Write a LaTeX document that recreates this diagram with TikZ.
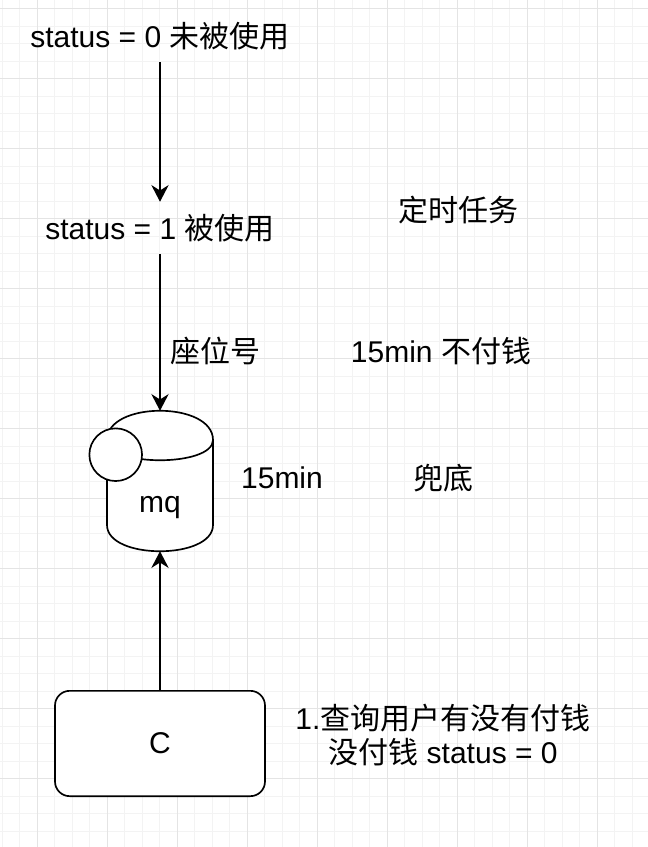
\documentclass[tikz,border=0pt]{standalone}
\usepackage{fontspec}
\setmainfont{Liberation Sans}
\newfontfamily\cjk{Noto Sans CJK SC}
\usepackage{xcolor}
\usetikzlibrary{arrows.meta}

\definecolor{gridminor}{HTML}{F3F3F3}
\definecolor{gridmajor}{HTML}{E4E4E4}

\tikzset{
	txt/.style={font=\fontsize{22.5}{25.5}\selectfont, align=center, inner sep=0pt},
	statetxt/.style={txt, minimum height=39pt, minimum width=120pt},
	flow/.style={draw, -{Stealth[length=12.5pt,width=13pt]}, line width=1.25pt},
	shapeline/.style={draw, fill=white, line width=1.25pt}
}

\begin{document}
\begin{tikzpicture}[x=0.75pt, y=-0.75pt]
	\useasboundingbox (0,0) rectangle (648,847);
	% grid
	\foreach \gx in {2,19.5,...,648} {
		\draw[gridminor, line width=0.6pt] (\gx,0) -- (\gx,847);
	}
	\foreach \gy in {8.5,26,...,847} {
		\draw[gridminor, line width=0.6pt] (0,\gy) -- (648,\gy);
	}
	\foreach \gx in {37,107,...,648} {
		\draw[gridmajor, line width=0.7pt] (\gx,0) -- (\gx,847);
	}
	\foreach \gy in {8.5,78.5,...,847} {
		\draw[gridmajor, line width=0.7pt] (0,\gy) -- (648,\gy);
	}
	% queue body
	\path[shapeline] (107,440) .. controls (107,401) and (213,401) .. (213,440)
		-- (213,525) .. controls (213,560) and (107,560) .. (107,525) -- cycle;
	\draw[line width=1.25pt] (107,440) .. controls (107,467) and (213,467) .. (213,440);
	\node[minimum width=79.5pt, minimum height=105pt, inner sep=0pt] (mq) at (160,481) {};
	\node[shapeline, circle, minimum size=39.5pt, inner sep=0pt] (ring) at (115.7,454.7) {};
	\node[txt] (mqtxt) at (160,508) {mq};

	\node[statetxt] (unused) at (160,36) {status = 0 {\cjk 未被使用}};
	\node[statetxt] (used) at (160,228) {status = 1 {\cjk 被使用}};
	\node[shapeline, rounded corners=11pt, minimum width=157.5pt, minimum height=79pt, txt] (client) at (160,743.5) {C};

	\node[txt] (seat) at (215,351) {\cjk 座位号};
	\node[txt] (timer) at (458,210) {\cjk 定时任务};
	\node[txt] (nopay) at (441,351) {15min {\cjk 不付钱}};
	\node[txt] (delay) at (282,478) {15min};
	\node[txt] (fallback) at (443,478) {\cjk 兜底};
	\node[txt] (query) at (443,735) {1.{\cjk 查询用户有没有付钱}\\{\cjk 没付钱} status = 0};

	\draw[flow] (unused) -- (used);
	\draw[flow] (used) -- (mq);
	\draw[flow] (client) -- (mq);
\end{tikzpicture}
\end{document}
